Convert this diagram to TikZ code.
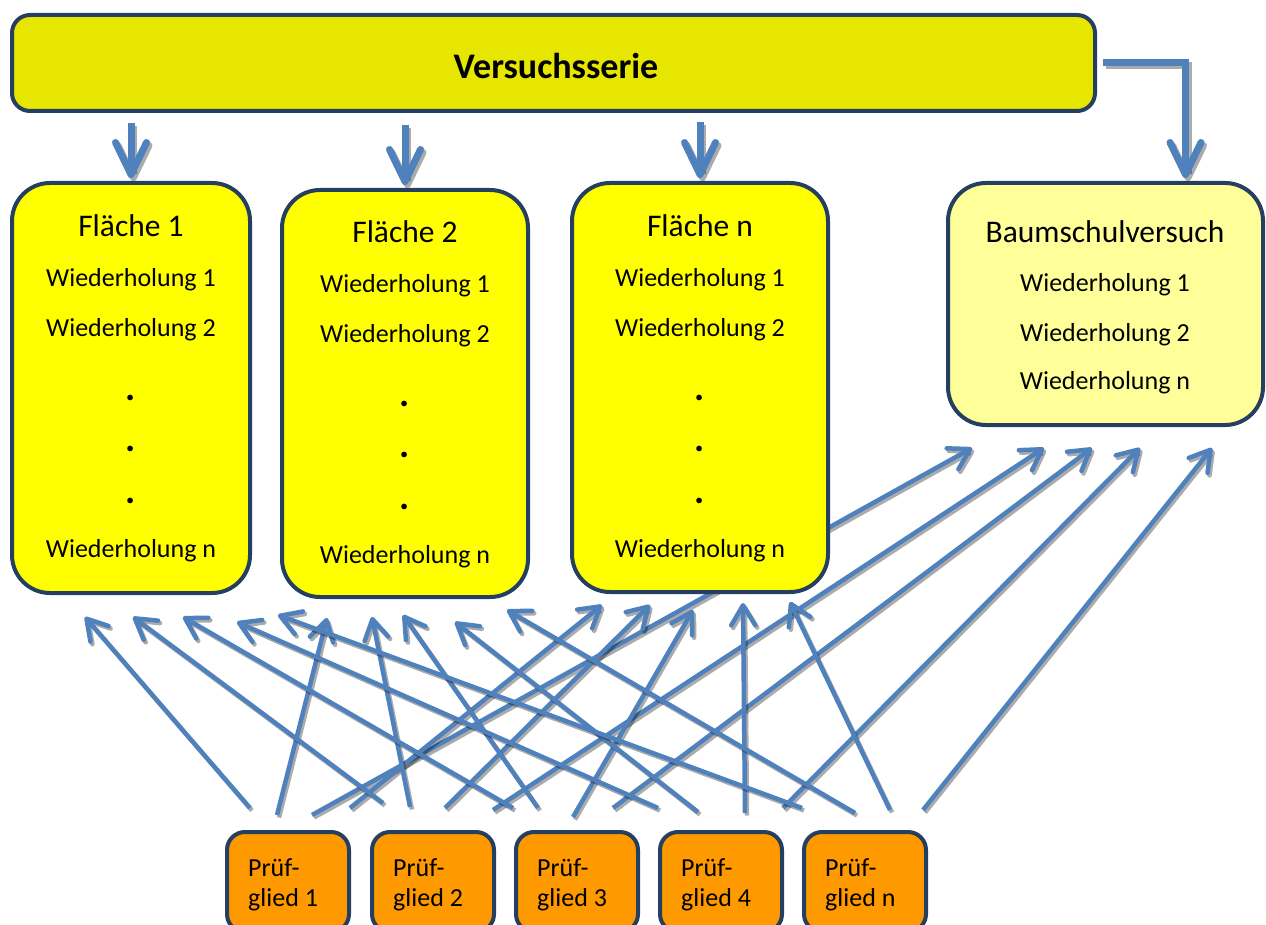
\documentclass[tikz,border=0pt]{standalone}
\usepackage{fontspec}
\setmainfont{Carlito}
\usetikzlibrary{arrows.meta,calc,backgrounds}
\definecolor{arrblue}{HTML}{4F81BD}
\definecolor{navy}{HTML}{243F60}
\definecolor{vsfill}{HTML}{E6E600}
\definecolor{flfill}{HTML}{FFFF00}
\definecolor{bsfill}{HTML}{FFFF99}
\definecolor{pgfill}{HTML}{FF9900}
\newcommand\flcol[4]{%
  \node[ttl] (#1-t) at (#2,237+#3) {#4};
  \node[txt] (#1-w1) at (#2,287+#3) {Wiederholung 1};
  \node[txt] (#1-w2) at (#2,336+#3) {Wiederholung 2};
  \node[dotx] (#1-d1) at (#2,400+#3) {.};
  \node[dotx] (#1-d2) at (#2,451+#3) {.};
  \node[dotx] (#1-d3) at (#2,503+#3) {.};
  \node[txt] (#1-wn) at (#2,557+#3) {Wiederholung n};
}
\newcommand\pgtext[2]{%
  \node[txt, anchor=base west] (#1-a) at ($(#1.north west)+(21,44)$) {Prüf-};
  \node[txt, anchor=base west] (#1-b) at ($(#1.north west)+(21,74)$) {glied #2};
}
\newcommand\webarr[6]{%
  \draw[web, shade2] ($(#1.north west)+(#2,-#3)$) -- ($(#4.south west)+(#5,#6)$);
  \draw[web] ($(#1.north west)+(#2,-#3)$) -- ($(#4.south west)+(#5,#6)$);
}
\begin{document}
\begin{tikzpicture}[x=1pt,y=-1pt,
  box/.style={draw=navy, line width=4pt, inner sep=0pt, outer sep=0pt, anchor=north west},
  vsbox/.style={box, fill=vsfill, rounded corners=18pt},
  flbox/.style={box, fill=flfill, rounded corners=38pt},
  bsbox/.style={box, fill=bsfill, rounded corners=38pt},
  pgbox/.style={box, fill=pgfill, rounded corners=18pt},
  txt/.style={inner sep=0pt, anchor=base, font=\fontsize{26}{30}\selectfont},
  dotx/.style={inner sep=0pt, anchor=base, font=\fontsize{38}{40}\selectfont\bfseries},
  ttl/.style={inner sep=0pt, anchor=base, font=\fontsize{31.5}{36}\selectfont},
  web/.style={draw=arrblue, line width=4.5pt,
    -{Straight Barb[length=20pt,width=24pt,round]}},
  shade2/.style={draw=black, draw opacity=0.33,
      transform canvas={xshift=2pt,yshift=-2.5pt}},
  toparr/.style={draw=arrblue, line width=7pt,
    -{Straight Barb[length=32pt,width=31pt,round]},
    shorten >=5pt},
  shade3/.style={draw=black, draw opacity=0.33,
      transform canvas={xshift=2.5pt,yshift=-3pt}}
]
\useasboundingbox (0,0) rectangle (1266,925);

% boxes
\node[vsbox, minimum width=1083pt, minimum height=96pt] (vs) at (12,15) {};
\node[inner sep=0pt, anchor=base, font=\fontsize{36}{40}\selectfont\bfseries] (vs-t) at (556,79) {Versuchsserie};

\node[flbox, minimum width=238pt, minimum height=410pt] (f1) at (12,183) {};
\node[flbox, minimum width=246pt, minimum height=407pt] (f2) at (282,190) {};
\node[flbox, minimum width=256pt, minimum height=409pt] (fn) at (572,183) {};
\node[bsbox, minimum width=315pt, minimum height=242pt] (bs) at (948,183) {};

\flcol{f1}{131}{0}{Fläche 1}
\flcol{f2}{405}{6}{Fläche 2}
\flcol{fn}{700}{0}{Fläche n}

\node[ttl] (bs-t) at (1105,243) {Baumschulversuch};
\node[txt] (bs-w1) at (1105,292) {Wiederholung 1};
\node[txt] (bs-w2) at (1105,341) {Wiederholung 2};
\node[txt] (bs-wn) at (1105,389) {Wiederholung n};

\node[pgbox, minimum width=122pt, minimum height=100pt] (p1) at (227,832) {};
\node[pgbox, minimum width=122pt, minimum height=100pt] (p2) at (372,832) {};
\node[pgbox, minimum width=122pt, minimum height=100pt] (p3) at (516,832) {};
\node[pgbox, minimum width=122pt, minimum height=100pt] (p4) at (660,832) {};
\node[pgbox, minimum width=122pt, minimum height=100pt] (p5) at (804,832) {};
\pgtext{p1}{1}
\pgtext{p2}{2}
\pgtext{p3}{3}
\pgtext{p4}{4}
\pgtext{p5}{n}

\begin{pgfonlayer}{background}
% top arrows (shadow, then arrow)
\draw[toparr, shade3, shorten <=12pt] (f1.north |- vs.south) -- (f1.north);
\draw[toparr, shorten <=12pt] (f1.north |- vs.south) -- (f1.north);
\draw[toparr, shade3, shorten <=14pt] (f2.north |- vs.south) -- (f2.north);
\draw[toparr, shorten <=14pt] (f2.north |- vs.south) -- (f2.north);
\draw[toparr, shade3, shorten <=11pt] (fn.north |- vs.south) -- (fn.north);
\draw[toparr, shorten <=11pt] (fn.north |- vs.south) -- (fn.north);
\draw[toparr, shade3, shorten <=8pt] (vs.east) -| ($(bs.north)+(80,0)$);
\draw[toparr, shorten <=8pt] (vs.east) -| ($(bs.north)+(80,0)$);

% Pruefglied 1
\webarr{p1}{23}{24}{f1}{73}{24}
\webarr{p1}{50}{17}{f2}{45}{21}
\webarr{p1}{85}{17}{bs}{24}{23}
\webarr{p1}{123}{24}{fn}{30}{13}
% Pruefglied 2
\webarr{p2}{11}{29}{f1}{121}{24}
\webarr{p2}{38}{25}{f2}{90}{20}
\webarr{p2}{73}{24}{fn}{78}{13}
\webarr{p2}{121}{22}{bs}{96}{23}
% Pruefglied 3
\webarr{p3}{-3}{24}{f1}{171}{24}
\webarr{p3}{22}{24}{f2}{121}{18}
\webarr{p3}{57}{15}{fn}{121}{18}
\webarr{p3}{97}{24}{bs}{144}{23}
% Pruefglied 4
\webarr{p4}{-2}{24}{f1}{225}{29}
\webarr{p4}{38}{20}{f2}{173}{25}
\webarr{p4}{85}{19}{fn}{171}{11}
\webarr{p4}{123}{24}{bs}{192}{23}
% Pruefglied n
\webarr{p5}{-2}{24}{f1}{266}{22}
\webarr{p5}{51}{19}{f2}{225}{13}
\webarr{p5}{86}{22}{fn}{218}{10}
\webarr{p5}{119}{22}{bs}{264}{23}
\end{pgfonlayer}
\end{tikzpicture}
\end{document}
